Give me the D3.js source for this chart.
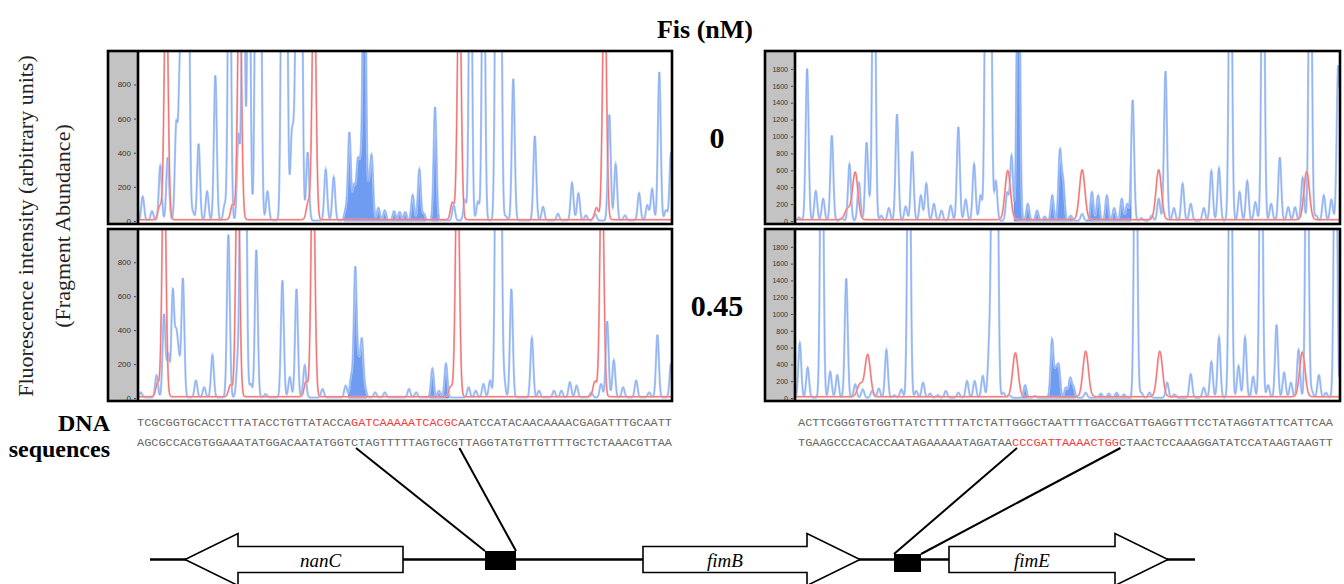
<!DOCTYPE html>
<html><head><meta charset="utf-8">
<script src="https://cdn.jsdelivr.net/npm/d3@7"></script>
<style>body{margin:0;background:#fff}svg{display:block}</style>
</head><body><svg id="c" width="1344" height="584"></svg>
<script>
// ---------------- DATA ----------------
// Peaks: [position (0-1000 along the run), fluorescence height, optional width]
const TL_blue = [[7,140],[24.5,55],[40,320],[54,370],[70,550],[77,870],[82,610],[86,2200],[92,2200],[101,50],[112,450],[128,170],[143.5,850],[161,90],[170,2200],[187,500],[196,2200],[206.5,2200],[220.5,2200],[227.5,2200],[241.5,170],[269.5,2200],[276.5,2200],[287,450],[292,380],[297.5,2200],[304.5,2200],[317,400],[351,300],[366,255],
 [388.5,60],[395.5,515],[404,200],[411,320],[416.5,280],[423.5,2200],[432,180],[437.5,360],[450,75],[462,60],[479.5,55],[490,50],[500.5,50],[514.5,150],[527,300],[535.5,40],[556.5,665],
 [591.5,90],[612.5,120],[623,2200],[637,110],[647.5,2200],[672,2200],[679,2200],[689.5,25],[703.5,830],[744,495],[759.5,80],[787.5,40],[814,220],[826,160],[840,30],[857.5,40],[884,620],[896,330],[913.5,30],[940,160],[955.5,90],[964.5,185],[978,870],[990.5,60],[1000,400]];
const TL_red = [[51,1500],[189,1500],[329,1500],[602,1500],[875,1500],[39,80],[176,90],[318,100],[589,100],[860,70]];
const TL_fill = [[385,540],[549,564]];

const BL_blue = [[3.5,30],[33,130],[47,490],[55,250],[63.5,620],[70,340],[75,200],[82.5,700],[107,100],[122.5,60],[138,250],[168,960],[185.5,200],[192.5,2200],[199.5,2200],[210,80],[220.5,870],[238,20],[269.5,690],[283.5,120],[296,640],[311.5,190],[345,50],[388.5,70],
 [399,120],[406.5,760],[413,180],[419,330],[425,50],
 [444,30],[462,30],[507.5,50],[521,30],[551.5,170],[564,40],[577,200],
 [619.5,60],[633,40],[647.5,80],[660,100],[672,2200],[679,2200],[686,110],[700,640],[738.5,350],[752,40],[780,40],[794,40],[810,90],[822.5,70],[850,30],[868.5,80],[880,450],[892.5,220],[910,60],[934.5,100],[959,30],[974.5,370],[1000,200]];
const BL_red = [[47,1500],[185.5,1500],[327,1500],[598.5,1500],[870,1500],[35,80],[172,70],[314,90],[586,60],[857,90]];
const BL_fill = [[394,428],[546,582]];

const TR_blue = [[5.5,40],[20.5,1800],[36.5,350],[50,260],[66,1010],[84,30],[98.5,670],[116,450],[130,920],[136.5,140],[143.5,4500],[157,60],[171,150],[186,1260],[202,170],[214,820],[230,300],[240,440],[254,200],[268,120],[285,180],[299,1110],[312.5,250],[328,670],[340,300],[350.5,4500],[357.5,4500],[368,470],[389,330],[397,770],
 [409.5,4500],[427,200],[444,120],[458,50],[472,300],[486,810],[492,440],[506,60],
 [527,80],
 [545,340],[556.5,300],[572.5,300],[586,150],[600,260],[610,200],
 [620,1430],[636,30],[655,60],[668,260],[680.5,1770],[696,150],[712,440],[727,200],[751,150],[765,590],[779,620],[800,4500],[817,340],[831,470],[846,220],[860,4500],[875,200],[891,750],[906.5,160],[919,160],[933,510],[947,4500],[958,60],[972,300],[986,250],[998.5,1840]];
const TR_red = [[109,560],[390,580],[527,590],[668,590],[940.5,570],[95,130]];
const TR_fill = [[402,510],[534,617]];

const BR_blue = [[7,650],[21.5,360],[47.5,4500],[63,310],[76,270],[92.5,1420],[109,160],[123,100],[140,80],[152.5,110],[166.5,570],[181,30],[194,100],[208,4500],[221.5,80],[234,180],[247,50],[261,30],[276,80],[299,60],[315,200],[329,200],[344,260],[356,610],[362.5,4500],[369.5,4500],[382,60],[393,30],
 [422,150],[440,20],
 [471.5,690],[478.5,300],[484,360],[497,120],[505,230],[511,120],
 [533.5,60],[561.5,50],[576,50],[590.5,60],[604,40],[625.5,4500],[636,60],[651,60],[683.5,180],[697,40],[727,280],[751,120],[765,430],[779,720],[800,4500],[815,380],[827,720],[842,250],[856.5,4500],[869.5,150],[885,870],[899,300],[911.5,180],[925.5,570],[941,4500],[950,80],[963,270],[976,60],[993.5,4500]];
const BR_red = [[118,150],[132,500],[404,520],[533.5,540],[670,540],[932.5,530]];
const BR_fill = [[415,428],[462,515],[556,618]];

const leftTicks = [0,200,400,600,800];
const rightTicks = [0,200,400,600,800,1000,1200,1400,1600,1800];
const concLabels = ["0","0.45"];

const seqLeft = [
  ["TCGCGGTGCACCTTTATACCTGTTATACCA","GATCAAAAATCACGC","AATCCATACAACAAAACGAGATTTGCAATT"],
  ["AGCGCCACGTGGAAATATGGACAATATGGTCTAGTTTTTAGTGCGTTAGGTATGTTGTTTTGCTCTAAACGTTAA"]
];
const seqRight = [
  ["ACTTCGGGTGTGGTTATCTTTTTATCTATTGGGCTAATTTTGACCGATTGAGGTTTCCTATAGGTATTCATTCAA"],
  ["TGAAGCCCACACCAATAGAAAAATAGATAA","CCCGATTAAAACTGG","CTAACTCCAAAGGATATCCATAAGTAAGTT"]
];
// gene map (map units along the drawn region)
const genes = [
  {name:"nanC", start:35, end:253, strand:-1},
  {name:"fimB", start:493, end:710, strand:1},
  {name:"fimE", start:799, end:1018, strand:1}
];
const sites = [[335,366],[744,771]];
const mapLength = 1045;

// ---------------- LAYOUT ----------------
const svg = d3.select("#c");
const L = {
  cols:{left:{x0:108,x1:672}, right:{x0:765,x1:1340}},
  rows:{top:{y0:51,y1:224}, bottom:{y0:229,y1:401}},
  strip:30
};
const panels = [
  {col:"left", row:"top", blue:TL_blue, red:TL_red, fills:TL_fill, yMax:990, ticks:leftTicks, redW:3.5, redBase:8},
  {col:"left", row:"bottom", blue:BL_blue, red:BL_red, fills:BL_fill, yMax:990, ticks:leftTicks, redW:3.5, redBase:8},
  {col:"right", row:"top", blue:TR_blue, red:TR_red, fills:TR_fill, yMax:2000, ticks:rightTicks, redW:5, redBase:16},
  {col:"right", row:"bottom", blue:BR_blue, red:BR_red, fills:BR_fill, yMax:2000, ticks:rightTicks, redW:5, redBase:16}
];

function trace(peaks, defW, base, from, to){
  const out=[];
  for(let x=from; x<=to+1e-9; x+=0.5){
    let v=base;
    for(const p of peaks){const w=p[2]||defW; const d=(x-p[0])/w; if(Math.abs(d)<7) v+=p[1]*Math.exp(-0.5*d*d);}
    out.push([x,v]);
  }
  return out;
}
const BW = 2.7;

panels.forEach((p,i)=>{
  const {x0,x1}=L.cols[p.col], {y0,y1}=L.rows[p.row];
  const px0 = x0+L.strip;
  const g = svg.append("g");
  g.append("rect").attr("x",x0).attr("y",y0).attr("width",L.strip).attr("height",y1-y0).attr("fill","#c3c3c3");
  const x = d3.scaleLinear().domain([0,1000]).range([px0+1,x1-1]);
  const y = d3.scaleLinear().domain([0,p.yMax]).range([y1-3,y0+1]);
  const cid="clip"+i;
  svg.append("clipPath").attr("id",cid).append("rect").attr("x",px0).attr("y",y0).attr("width",x1-px0).attr("height",y1-y0);
  const pg = g.append("g").attr("clip-path",`url(#${cid})`);
  const line = d3.line().x(d=>x(d[0])).y(d=>y(Math.min(d[1],p.yMax*1.2)));
  const area = d3.area().x(d=>x(d[0])).y0(y(0)).y1(d=>y(Math.min(d[1],p.yMax*1.2)));
  const bt = trace(p.blue,BW,3,0,1000);
  p.fills.forEach(f=>{
    const seg = trace(p.blue,BW,3,f[0],f[1]);
    pg.append("path").attr("d",area(seg)).attr("fill","#6f9cf0").attr("stroke","#4a7de6").attr("stroke-width",0.8);
  });
  pg.append("path").attr("d",line(bt)).attr("fill","none").attr("stroke","#b3cbf8").attr("stroke-width",2.2);
  pg.append("path").attr("d",line(bt)).attr("fill","none").attr("stroke","#5e8eea").attr("stroke-width",0.7).attr("opacity",0.6);
  const rt = trace(p.red,p.redW,p.redBase,0,1000);
  pg.append("path").attr("d",line(rt)).attr("fill","none").attr("stroke","#f8b0b0").attr("stroke-width",2);
  pg.append("path").attr("d",line(rt)).attr("fill","none").attr("stroke","#ec5050").attr("stroke-width",0.8).attr("opacity",0.85);
  // axis
  const ax = g.append("g").attr("transform",`translate(${px0-2},0)`)
    .call(d3.axisLeft(y).tickValues(p.ticks).tickSize(2).tickPadding(3).tickFormat(d3.format("d")));
  ax.select(".domain").remove();
  ax.selectAll("text").attr("font-family","Arial, Liberation Sans, sans-serif").attr("font-size",p.col==="left"?"8px":"7px").attr("fill","#333");
  ax.selectAll("line").attr("stroke","#444");
  // borders
  g.append("rect").attr("x",x0).attr("y",y0).attr("width",x1-x0).attr("height",y1-y0).attr("fill","none").attr("stroke","#000").attr("stroke-width",2.6);
  g.append("line").attr("x1",px0).attr("x2",px0).attr("y1",y0).attr("y2",y1).attr("stroke","#000").attr("stroke-width",2.6);
});

// titles
const serif = "Liberation Serif, Times New Roman, serif";
svg.append("text").attr("x",705).attr("y",38).attr("text-anchor","middle").attr("font-family",serif).attr("font-weight","bold").attr("font-size",26).text("Fis (nM)");
const concY = [148,316];
concLabels.forEach((t,i)=>svg.append("text").attr("x",717).attr("y",concY[i]).attr("text-anchor","middle").attr("font-family",serif).attr("font-weight","bold").attr("font-size",30).text(t));
svg.append("text").attr("transform","translate(33,226) rotate(-90)").attr("text-anchor","middle").attr("font-family",serif).attr("font-size",22).attr("fill","#222").text("Fluorescence intensity (arbitrary units)");
svg.append("text").attr("transform","translate(70,226) rotate(-90)").attr("text-anchor","middle").attr("font-family",serif).attr("font-size",22).attr("fill","#222").text("(Fragment Abundance)");
svg.append("text").attr("x",110).attr("y",431).attr("text-anchor","end").attr("font-family",serif).attr("font-weight","bold").attr("font-size",24).text("DNA");
svg.append("text").attr("x",110).attr("y",457).attr("text-anchor","end").attr("font-family",serif).attr("font-weight","bold").attr("font-size",24).text("sequences");

// sequences
const seqBlocks = [{lines:seqLeft, x0:137, x1:672},{lines:seqRight, x0:798, x1:1333}];
const seqY = [426,446];
seqBlocks.forEach(b=>{
  const nChars = b.lines[0].join("").length;
  const cx = d3.scaleLinear().domain([0,nChars]).range([b.x0,b.x1]);
  b.lines.forEach((parts,li)=>{
    let idx=0;
    parts.forEach((s,pi)=>{
      const red = parts.length===3 && pi===1;
      svg.append("text").attr("x",cx(idx)).attr("y",seqY[li]).attr("font-family","Liberation Mono, monospace").attr("font-size",10.5)
        .attr("textLength",cx(idx+s.length)-cx(idx)).attr("lengthAdjust","spacingAndGlyphs")
        .attr("fill",red?"#f03a3a":"#666").text(s);
      idx+=s.length;
    });
  });
  b.cx=cx;
});

// gene map
const mx = d3.scaleLinear().domain([0,mapLength]).range([150,1195]);
const my = 559.5, bodyH=13, headH=26, headL=53;
svg.append("line").attr("x1",mx(0)).attr("x2",mx(mapLength)).attr("y1",my).attr("y2",my).attr("stroke","#000").attr("stroke-width",2.5);
genes.forEach(gn=>{
  const a=mx(gn.start), b=mx(gn.end);
  let pts;
  if(gn.strand>0) pts=[[a,my-bodyH],[b-headL,my-bodyH],[b-headL,my-headH],[b,my],[b-headL,my+headH],[b-headL,my+bodyH],[a,my+bodyH]];
  else pts=[[b,my-bodyH],[a+headL,my-bodyH],[a+headL,my-headH],[a,my],[a+headL,my+headH],[a+headL,my+bodyH],[b,my+bodyH]];
  svg.append("polygon").attr("points",pts.map(q=>q.join(",")).join(" ")).attr("fill","#fff").attr("stroke","#000").attr("stroke-width",1.6);
  const bodyC = gn.strand>0 ? (a+b-headL)/2 : (a+headL+b)/2;
  svg.append("text").attr("x",bodyC).attr("y",my+7).attr("text-anchor","middle").attr("font-family",serif).attr("font-style","italic").attr("font-size",19).text(gn.name);
});
const siteY = [[551,570],[554,572]];
sites.forEach((s,i)=>{
  svg.append("rect").attr("x",mx(s[0])).attr("y",siteY[i][0]).attr("width",mx(s[1])-mx(s[0])).attr("height",siteY[i][1]-siteY[i][0]).attr("fill","#000");
});
// connectors from the red binding site in the sequence to the map
const connChar = [30.7,45.2];
seqBlocks.forEach((b,i)=>{
  const s = sites[i];
  [[connChar[0],s[0]],[connChar[1],s[1]]].forEach(([c,m])=>{
    svg.append("line").attr("x1",b.cx(c)).attr("y1",448).attr("x2",mx(m)).attr("y2",siteY[i][0]).attr("stroke","#000").attr("stroke-width",2);
  });
});
</script></body></html>
